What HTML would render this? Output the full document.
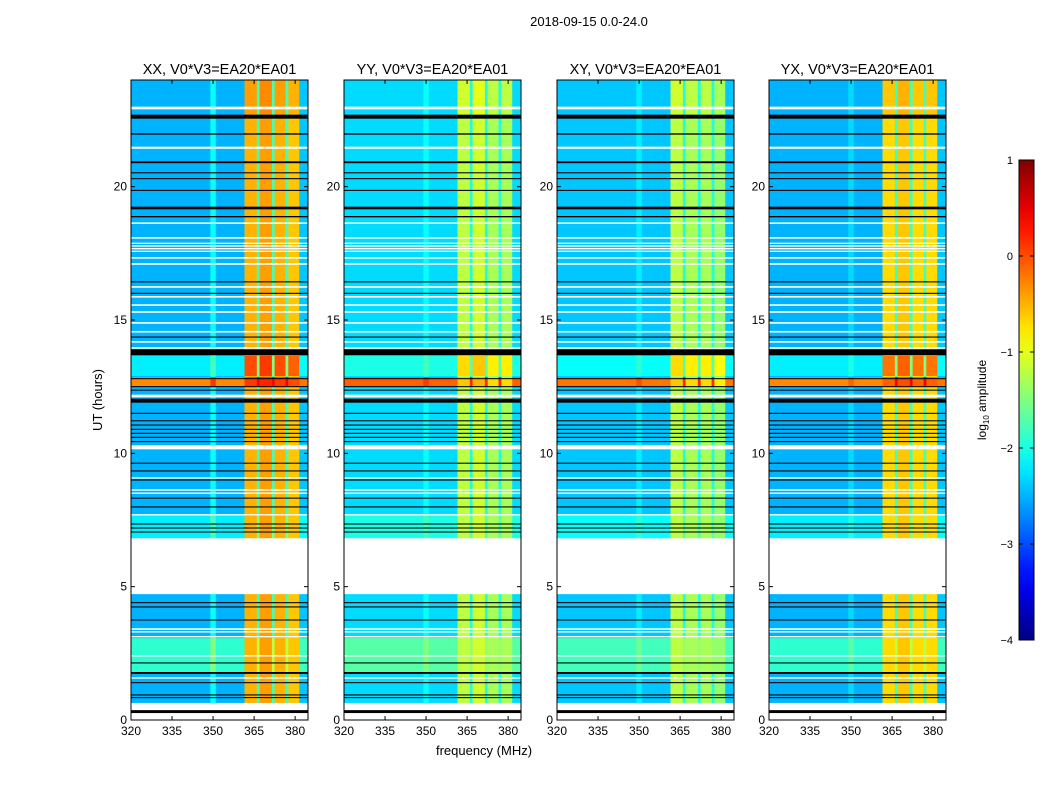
<!DOCTYPE html>
<html><head><meta charset="utf-8">
<style>
body{margin:0;background:#fff;font-family:"Liberation Sans","DejaVu Sans",sans-serif;}
svg text{font-family:"Liberation Sans","DejaVu Sans",sans-serif;}
</style></head>
<body>
<svg id="fig" width="1050" height="800" xmlns="http://www.w3.org/2000/svg">
<text x="589" y="26" font-size="13" text-anchor="middle">2018-09-15 0.0-24.0</text>
<text x="484" y="755" font-size="13" text-anchor="middle">frequency (MHz)</text>
<text transform="translate(102,400) rotate(-90)" font-size="13" text-anchor="middle">UT (hours)</text>
<g id="panels"></g>
<g id="cbar"></g>
</svg>
<script>
// ---- data ----
const panelTitles = ["XX, V0*V3=EA20*EA01","YY, V0*V3=EA20*EA01","XY, V0*V3=EA20*EA01","YX, V0*V3=EA20*EA01"];
const bandEdges = [320,349,351,361.5,366,367,371.5,372.5,376.5,377.5,381.5,384.7];
const levelsXX = [-2.5,-2.1,-2.5,-0.5,-1.8,-0.4,-1.8,-0.5,-1.8,-0.6,-2.4];
const levelsYY = [-2.3,-2.1,-2.3,-1.2,-2.0,-1.1,-2.0,-1.3,-2.0,-1.3,-2.3];
const levelsXY = [-2.4,-2.2,-2.4,-1.2,-2.0,-1.3,-2.0,-1.3,-2.0,-1.4,-2.4];
const levelsYX = [-2.5,-2.3,-2.5,-0.7,-1.8,-0.6,-1.8,-0.7,-1.8,-0.7,-2.4];
const coverage = [[0.64,4.72],[6.82,24]];
// [start, end, background boost, loud-band boost]
const boostRows = [[12.52,12.86,2.2,0.6],[12.9,13.66,0.3,0.5],[1.8,3.07,0.6,0],[6.82,7.7,0.3,0],[22.6,24,0,0.1]];
const whiteRows = [[22.9,23.0],[21.42,21.5],[18.6,18.66],[18.05,18.11],[17.55,17.6],[17.65,17.7],[17.75,17.8],[17.85,17.9],[17.3,17.36],[17.07,17.13],[16.21,16.27],[15.84,15.9],[15.53,15.59],[15.27,15.33],[14.86,14.92],[14.53,14.59],[14.15,14.21],[13.92,13.98],[12.1,12.2],[10.15,10.3],[9.05,9.1],[8.6,8.65],[8.48,8.53],[7.67,7.72],[3.38,3.44],[3.28,3.33],[3.1,3.15],[2.38,2.43],[1.55,1.6]];
const blackRows = [[22.55,22.7],[21.95,22.0],[20.88,20.95],[20.5,20.54],[20.28,20.32],[19.84,19.88],[19.15,19.25],[18.85,18.9],[16.41,16.45],[15.98,16.02],[14.34,14.38],[13.68,13.9],[12.78,12.82],[12.48,12.52],[12.35,12.39],[11.9,12.05],[11.48,11.52],[11.2,11.24],[11.04,11.08],[10.88,10.92],[10.73,10.77],[10.58,10.62],[10.42,10.46],[9.61,9.65],[9.32,9.36],[8.98,9.02],[8.3,8.34],[7.97,8.01],[7.33,7.37],[7.18,7.22],[7.03,7.07],[4.38,4.42],[4.22,4.26],[3.73,3.77],[2.12,2.16],[1.73,1.8],[1.38,1.42],[0.92,0.96],[0.82,0.86],[0.26,0.37]];
const xTicks = [320,335,350,365,380];
const yTicks = [0,5,10,15,20];
const cbarTicks = [1,0,-1,-2,-3,-4];

const panelLevels = [levelsXX,levelsYY,levelsXY,levelsYX];
const panelLeft = [131,344,557,769];
const PW = 177, PT = 80, PH = 640, F0 = 320, F1 = 384.7, T1 = 24;
const VMIN = -4, VMAX = 1;
const NS = "http://www.w3.org/2000/svg";

function jet(v){
  let t = (v - VMIN)/(VMAX - VMIN); t = Math.max(0,Math.min(1,t));
  const c = x => Math.round(255*Math.max(0,Math.min(1,x)));
  const r = Math.min(4*t-1.5, -4*t+4.5), g = Math.min(4*t-0.5, -4*t+3.5), b = Math.min(4*t+0.5, -4*t+2.5);
  return `rgb(${c(r)},${c(g)},${c(b)})`;
}
function mk(tag, attrs, parent){
  const e = document.createElementNS(NS, tag);
  for (const k in attrs) e.setAttribute(k, attrs[k]);
  parent.appendChild(e); return e;
}
const panelsG = document.getElementById('panels');
const isLoud = i => i===3||i===5||i===7||i===9;

panelLevels.forEach((levels, p) => {
  const L = panelLeft[p];
  const xs = f => L + (f - F0)/(F1 - F0)*PW;
  const ys = h => PT + (T1 - h)/T1*PH;
  const g = mk('g', {}, panelsG);
  
  
  const drawRow = (h0, h1, bb, lb) => {
    levels.forEach((lv, i) => {
      const v = lv + (isLoud(i) ? lb : bb);
      const r = mk('rect', {x: xs(bandEdges[i]), y: ys(h1), width: xs(bandEdges[i+1]) - xs(bandEdges[i]) + 0.3, height: ys(h0) - ys(h1), fill: jet(v)}, g);
      
      
    });
  };
  coverage.forEach(c => drawRow(c[0], c[1], 0, 0));
  boostRows.forEach(b => drawRow(b[0], b[1], b[2], b[3]));
  whiteRows.forEach(w => {
    const r = mk('rect', {x: L, y: ys(w[1]), width: PW, height: Math.max(1, ys(w[0]) - ys(w[1])), fill: '#fff'}, g);
    
    
  });
  blackRows.forEach(w => {
    const r = mk('rect', {x: L, y: ys(w[1]), width: PW, height: Math.max(1, ys(w[0]) - ys(w[1])), fill: '#000'}, g);
    
    
  });
  const fr = mk('rect', {x: L, y: PT, width: PW, height: PH, fill: 'none', stroke: '#000', 'stroke-width': 1}, g);
  
  
  const t = mk('text', {x: L + PW/2, y: PT - 6, 'font-size': 14.5, 'text-anchor': 'middle'}, g);
  t.textContent = panelTitles[p];
  
  
  xTicks.forEach(v => {
    const x = xs(v);
    mk('line', {x1: x, x2: x, y1: PT+PH, y2: PT+PH-4, stroke: '#000'}, g);
    mk('line', {x1: x, x2: x, y1: PT, y2: PT+4, stroke: '#000'}, g);
    const tx = mk('text', {x: x, y: PT+PH+15, 'font-size': 12, 'text-anchor': 'middle'}, g);
    tx.textContent = v;
    
    
  });
  yTicks.forEach(v => {
    const y = ys(v);
    mk('line', {x1: L, x2: L+4, y1: y, y2: y, stroke: '#000'}, g);
    mk('line', {x1: L+PW, x2: L+PW-4, y1: y, y2: y, stroke: '#000'}, g);
    const ty = mk('text', {x: L - 4, y: y + 4, 'font-size': 12, 'text-anchor': 'end'}, g);
    ty.textContent = v;
    
    
  });
});

// colorbar
const cb = document.getElementById('cbar');
const CX = 1019, CW = 15, CT = 160, CH = 480;
const defs = mk('defs', {}, cb);
const grad = mk('linearGradient', {id: 'jetgrad', x1: 0, y1: 1, x2: 0, y2: 0}, defs);
for (let i = 0; i <= 20; i++) {
  const v = VMIN + (VMAX - VMIN)*i/20;
  mk('stop', {offset: (i/20), 'stop-color': jet(v)}, grad);
}
const cr = mk('rect', {x: CX, y: CT, width: CW, height: CH, fill: 'url(#jetgrad)', stroke: '#000', 'stroke-width': 1}, cb);


cbarTicks.forEach(v => {
  const y = CT + (VMAX - v)/(VMAX - VMIN)*CH;
  mk('line', {x1: CX, x2: CX+4, y1: y, y2: y, stroke: '#000'}, cb);
  mk('line', {x1: CX+CW, x2: CX+CW-4, y1: y, y2: y, stroke: '#000'}, cb);
  const t = mk('text', {x: 1013, y: y + 4, 'font-size': 11, 'text-anchor': 'end'}, cb);
  t.textContent = v < 0 ? '\u2212' + Math.abs(v) : String(v);
  
  
});
const cl = mk('text', {transform: 'translate(986,400) rotate(-90)', 'font-size': 12, 'text-anchor': 'middle'}, cb);
cl.innerHTML = 'log<tspan font-size="8" dy="3">10</tspan><tspan dy="-3"> amplitude</tspan>';


</script>
</body></html>
